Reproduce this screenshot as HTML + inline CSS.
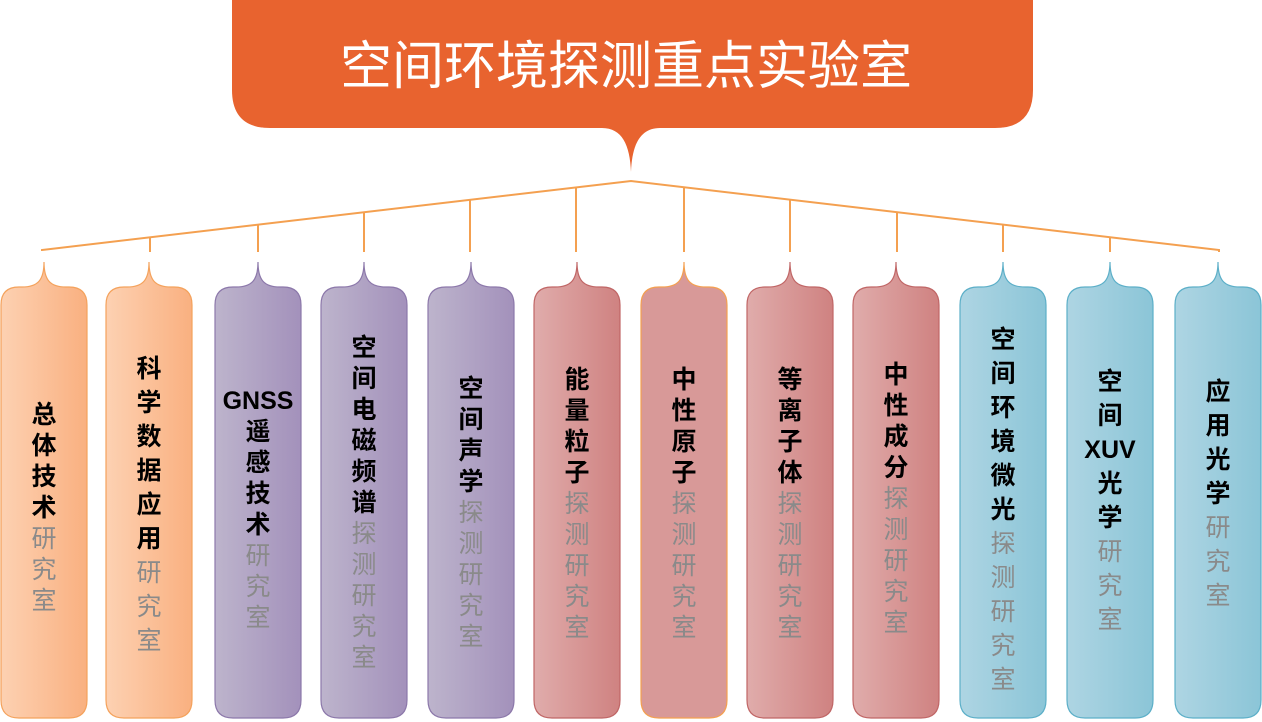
<!DOCTYPE html>
<html><head><meta charset="utf-8"><style>
html,body{margin:0;padding:0;background:#fff;}
body{width:1262px;height:722px;position:relative;overflow:hidden;font-family:"Liberation Sans","Noto Sans CJK SC",sans-serif;}
svg{position:absolute;left:0;top:0;}
.t{position:absolute;width:86px;text-align:center;font-size:25px;font-family:"Liberation Sans","Noto Sans CJK SC",sans-serif;}
.t div{height:31px;line-height:31px;}
.t.w div{height:34px;line-height:34px;}
.b{font-weight:bold;color:#000;}
.g{color:#8a8a8a;}
.title{position:absolute;left:340px;width:572px;top:33px;text-align:center;color:#fff;font-size:52px;line-height:68px;white-space:nowrap;font-family:"Liberation Sans","Noto Sans CJK SC",sans-serif;}
</style></head><body>
<svg width="1262" height="722" viewBox="0 0 1262 722">
<defs>
<linearGradient id="go" x1="0" x2="1"><stop offset="0" stop-color="#fdd1b2"/><stop offset="1" stop-color="#f9b080"/></linearGradient>
<linearGradient id="gp" x1="0" x2="1"><stop offset="0" stop-color="#bdb4cc"/><stop offset="1" stop-color="#a391bb"/></linearGradient>
<linearGradient id="gr" x1="0" x2="1"><stop offset="0" stop-color="#e0acab"/><stop offset="1" stop-color="#cf8281"/></linearGradient>
<linearGradient id="gb" x1="0" x2="1"><stop offset="0" stop-color="#aed5e3"/><stop offset="1" stop-color="#8bc5d7"/></linearGradient>
</defs>
<path d="M232,-20 L1033,-20 L1033,90 Q1033,128 995,128 L660,128 C640,128 632,145 631,172 C630,145 622,128 602,128 L270,128 Q232,128 232,90 Z" fill="#e8632f"/>
<g stroke="#f4a050" stroke-width="2" fill="none">
<path d="M42,251 L42,250 L631,181 L1219,250 L1219,251"/>
<path d="M150,252V238 M258,252V225 M364,252V213 M470,252V200 M576,252V188 M684,252V187 M790,252V200 M897,252V212 M1003,252V225 M1110,252V237 M1219,252V250"/>
</g>
<path d="M1,305 Q1,287 19,287 L22,287 C38,287 44,280 44,262 C44,280 50,287 66,287 L69,287 Q87,287 87,305 L87,700 Q87,718 69,718 L19,718 Q1,718 1,700 Z" fill="url(#go)" stroke="#f4a25c" stroke-width="1.2"/>
<path d="M106,305 Q106,287 124,287 L127,287 C143,287 149,280 149,262 C149,280 155,287 171,287 L174,287 Q192,287 192,305 L192,700 Q192,718 174,718 L124,718 Q106,718 106,700 Z" fill="url(#go)" stroke="#f4a25c" stroke-width="1.2"/>
<path d="M215,305 Q215,287 233,287 L236,287 C252,287 258,280 258,262 C258,280 264,287 280,287 L283,287 Q301,287 301,305 L301,700 Q301,718 283,718 L233,718 Q215,718 215,700 Z" fill="url(#gp)" stroke="#8c78aa" stroke-width="1.2"/>
<path d="M321,305 Q321,287 339,287 L342,287 C358,287 364,280 364,262 C364,280 370,287 386,287 L389,287 Q407,287 407,305 L407,700 Q407,718 389,718 L339,718 Q321,718 321,700 Z" fill="url(#gp)" stroke="#8c78aa" stroke-width="1.2"/>
<path d="M428,305 Q428,287 446,287 L449,287 C465,287 471,280 471,262 C471,280 477,287 493,287 L496,287 Q514,287 514,305 L514,700 Q514,718 496,718 L446,718 Q428,718 428,700 Z" fill="url(#gp)" stroke="#8c78aa" stroke-width="1.2"/>
<path d="M534,305 Q534,287 552,287 L555,287 C571,287 577,280 577,262 C577,280 583,287 599,287 L602,287 Q620,287 620,305 L620,700 Q620,718 602,718 L552,718 Q534,718 534,700 Z" fill="url(#gr)" stroke="#c06666" stroke-width="1.2"/>
<path d="M641,305 Q641,287 659,287 L662,287 C678,287 684,280 684,262 C684,280 690,287 706,287 L709,287 Q727,287 727,305 L727,700 Q727,718 709,718 L659,718 Q641,718 641,700 Z" fill="#d89998" stroke="#f4a050" stroke-width="1.2"/>
<path d="M747,305 Q747,287 765,287 L768,287 C784,287 790,280 790,262 C790,280 796,287 812,287 L815,287 Q833,287 833,305 L833,700 Q833,718 815,718 L765,718 Q747,718 747,700 Z" fill="url(#gr)" stroke="#c06666" stroke-width="1.2"/>
<path d="M853,305 Q853,287 871,287 L874,287 C890,287 896,280 896,262 C896,280 902,287 918,287 L921,287 Q939,287 939,305 L939,700 Q939,718 921,718 L871,718 Q853,718 853,700 Z" fill="url(#gr)" stroke="#c06666" stroke-width="1.2"/>
<path d="M960,305 Q960,287 978,287 L981,287 C997,287 1003,280 1003,262 C1003,280 1009,287 1025,287 L1028,287 Q1046,287 1046,305 L1046,700 Q1046,718 1028,718 L978,718 Q960,718 960,700 Z" fill="url(#gb)" stroke="#5cafc8" stroke-width="1.2"/>
<path d="M1067,305 Q1067,287 1085,287 L1088,287 C1104,287 1110,280 1110,262 C1110,280 1116,287 1132,287 L1135,287 Q1153,287 1153,305 L1153,700 Q1153,718 1135,718 L1085,718 Q1067,718 1067,700 Z" fill="url(#gb)" stroke="#5cafc8" stroke-width="1.2"/>
<path d="M1175,305 Q1175,287 1193,287 L1196,287 C1212,287 1218,280 1218,262 C1218,280 1224,287 1240,287 L1243,287 Q1261,287 1261,305 L1261,700 Q1261,718 1243,718 L1193,718 Q1175,718 1175,700 Z" fill="url(#gb)" stroke="#5cafc8" stroke-width="1.2"/>
</svg>
<div class="title">空间环境探测重点实验室</div>

<div class="t" style="left:1px;top:400px"><div class="b">总</div><div class="b">体</div><div class="b">技</div><div class="b">术</div><div class="g">研</div><div class="g">究</div><div class="g">室</div></div>
<div class="t w" style="left:106px;top:352px"><div class="b">科</div><div class="b">学</div><div class="b">数</div><div class="b">据</div><div class="b">应</div><div class="b">用</div><div class="g">研</div><div class="g">究</div><div class="g">室</div></div>
<div class="t" style="left:215px;top:386px"><div class="b">GNSS</div><div class="b">遥</div><div class="b">感</div><div class="b">技</div><div class="b">术</div><div class="g">研</div><div class="g">究</div><div class="g">室</div></div>
<div class="t" style="left:321px;top:333px"><div class="b">空</div><div class="b">间</div><div class="b">电</div><div class="b">磁</div><div class="b">频</div><div class="b">谱</div><div class="g">探</div><div class="g">测</div><div class="g">研</div><div class="g">究</div><div class="g">室</div></div>
<div class="t" style="left:428px;top:374px"><div class="b">空</div><div class="b">间</div><div class="b">声</div><div class="b">学</div><div class="g">探</div><div class="g">测</div><div class="g">研</div><div class="g">究</div><div class="g">室</div></div>
<div class="t" style="left:534px;top:365px"><div class="b">能</div><div class="b">量</div><div class="b">粒</div><div class="b">子</div><div class="g">探</div><div class="g">测</div><div class="g">研</div><div class="g">究</div><div class="g">室</div></div>
<div class="t" style="left:641px;top:365px"><div class="b">中</div><div class="b">性</div><div class="b">原</div><div class="b">子</div><div class="g">探</div><div class="g">测</div><div class="g">研</div><div class="g">究</div><div class="g">室</div></div>
<div class="t" style="left:747px;top:365px"><div class="b">等</div><div class="b">离</div><div class="b">子</div><div class="b">体</div><div class="g">探</div><div class="g">测</div><div class="g">研</div><div class="g">究</div><div class="g">室</div></div>
<div class="t" style="left:853px;top:360px"><div class="b">中</div><div class="b">性</div><div class="b">成</div><div class="b">分</div><div class="g">探</div><div class="g">测</div><div class="g">研</div><div class="g">究</div><div class="g">室</div></div>
<div class="t w" style="left:960px;top:323px"><div class="b">空</div><div class="b">间</div><div class="b">环</div><div class="b">境</div><div class="b">微</div><div class="b">光</div><div class="g">探</div><div class="g">测</div><div class="g">研</div><div class="g">究</div><div class="g">室</div></div>
<div class="t w" style="left:1067px;top:365px"><div class="b">空</div><div class="b">间</div><div class="b">XUV</div><div class="b">光</div><div class="b">学</div><div class="g">研</div><div class="g">究</div><div class="g">室</div></div>
<div class="t w" style="left:1175px;top:375px"><div class="b">应</div><div class="b">用</div><div class="b">光</div><div class="b">学</div><div class="g">研</div><div class="g">究</div><div class="g">室</div></div>
</body></html>
